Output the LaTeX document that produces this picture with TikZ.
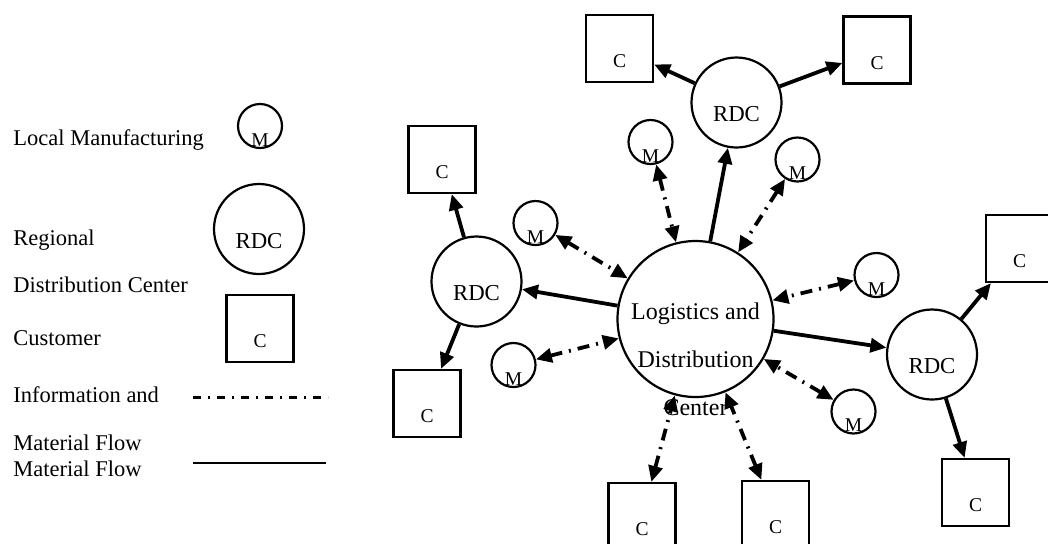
\documentclass[tikz,border=0pt]{standalone}
\usepackage{fontspec}
\setmainfont{Liberation Serif}
\usetikzlibrary{arrows.meta}

\begin{document}
\begin{tikzpicture}[x=0.5pt, y=-0.5pt,
  every node/.style={font=\fontsize{11.25}{13}\selectfont},
  legtext/.style={anchor=base west, inner sep=0pt},
  mfg/.style={circle, draw, line width=1.1pt, minimum size=22pt, inner sep=0pt,
    label={[font=\fontsize{9.75}{12}\selectfont, yshift=-7pt]center:M}},
  rdc/.style={circle, draw, line width=1.1pt, minimum size=45pt, inner sep=0pt,
    label={[font=\fontsize{11.4}{13}\selectfont, yshift=-6pt]center:RDC}},
  cust/.style={rectangle, draw, line width=1.1pt, minimum size=33.5pt, inner sep=0pt,
    label={[font=\fontsize{9.75}{12}\selectfont, yshift=-6.5pt]center:C}},
  hub/.style={circle, draw, line width=1.1pt, minimum size=78pt, inner sep=0pt},
  hubtext/.style={align=center, font=\fontsize{12}{24}\selectfont, yshift=-20pt},
  mat/.style={-{Triangle[length=8pt,width=7pt]}, line width=1.9pt},
  info/.style={{Triangle[length=8pt,width=7pt]}-{Triangle[length=8pt,width=7pt]},
    line width=1.9pt, dash pattern=on 6pt off 3.5pt on 1pt off 3.5pt}]
  \useasboundingbox (0,0) rectangle (1048,543);

  % Legend
  \node[legtext] (tM) at (13,145) {Local Manufacturing};
  \node[legtext] (tR1) at (13,245) {Regional};
  \node[legtext] (tR2) at (13,292.7) {Distribution Center};
  \node[legtext] (tC) at (13,345) {Customer};
  \node[legtext] (tI) at (13,402.7) {Information and};
  \node[legtext] (tF1) at (13,450.7) {Material Flow};
  \node[legtext] (tF2) at (13,476.7) {Material Flow};
  \node[mfg] (legM) at (260,126) {};
  \node[rdc] (legR) at (259,229) {};
  \node[cust] (legC) at (260,328.5) {};
  \coordinate (infoA) at (193,397);
  \coordinate (infoB) at (328,397);
  \coordinate (matA) at (193,463);
  \coordinate (matB) at (326,463);
  \draw[line width=1.5pt, dash pattern=on 4pt off 3.5pt on 1pt off 3.5pt] (infoA) -- (infoB);
  \draw[line width=1.2pt] (matA) -- (matB);

  % Logistics and distribution center
  \node[hub, label={[hubtext]center:Logistics and\\Distribution\\Center}] (ldc) at (695.5,319) {};

  % Regional distribution centers
  \node[rdc] (rdcT) at (736.5,102.5) {};
  \node[rdc] (rdcL) at (476.5,281.5) {};
  \node[rdc] (rdcR) at (932,354.5) {};

  % Customers
  \node[cust] (cTL) at (619.5,48.5) {};
  \node[cust] (cTR) at (877,50) {};
  \node[cust] (cLT) at (442,159.5) {};
  \node[cust] (cLB) at (427,403.5) {};
  \node[cust] (cRT) at (1019.5,248.5) {};
  \node[cust] (cRB) at (975.5,492.5) {};
  \node[cust] (cB1) at (642,516.5) {};
  \node[cust] (cB2) at (775.5,514.5) {};

  % Local manufacturing
  \node[mfg] (m1) at (650.5,142) {};
  \node[mfg] (m2) at (797.5,159.5) {};
  \node[mfg] (m3) at (535.5,223) {};
  \node[mfg] (m4) at (513.5,365) {};
  \node[mfg] (m5) at (876.5,275) {};
  \node[mfg] (m6) at (853.5,411.5) {};

  % Material flow
  \draw[mat] (ldc) -- (rdcT);
  \draw[mat] (ldc) -- (rdcL);
  \draw[mat] (ldc) -- (rdcR);
  \draw[mat] (rdcT) -- (cTL);
  \draw[mat] (rdcT) -- (cTR);
  \draw[mat] (rdcL) -- (cLT);
  \draw[mat] (rdcL) -- (cLB);
  \draw[mat] (rdcR) -- (cRT);
  \draw[mat] (rdcR) -- (cRB);

  % Information and material flow
  \foreach \m in {m1,m2,m3,m4,m5,m6,cB1,cB2}
    \draw[info] (\m) -- (ldc);
\end{tikzpicture}
\end{document}
